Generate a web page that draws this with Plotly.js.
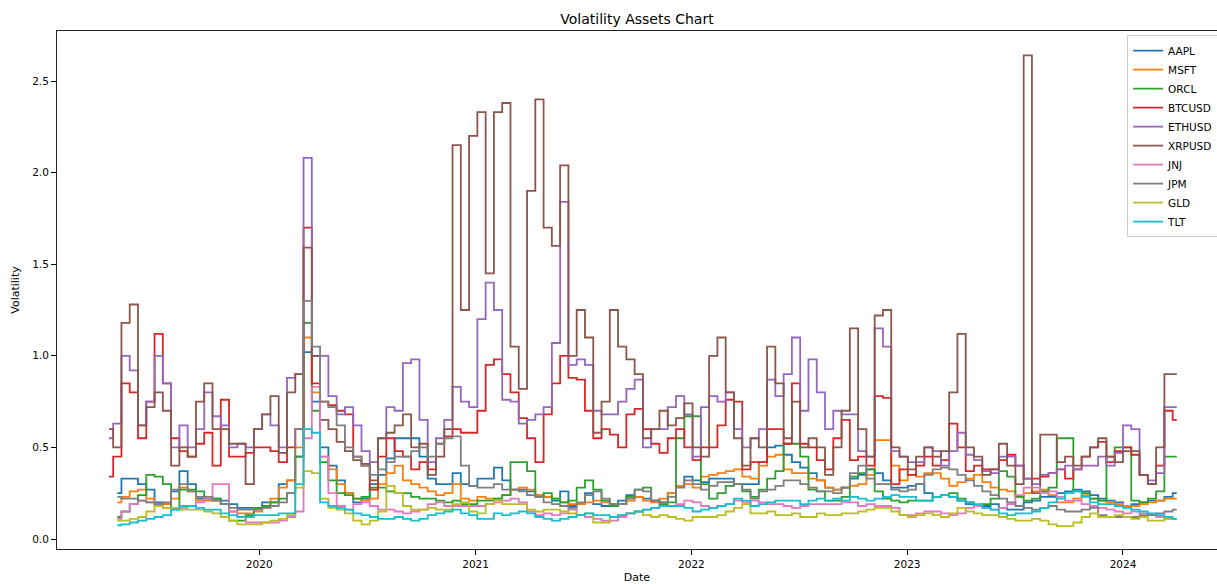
<!DOCTYPE html>
<html>
<head>
<meta charset="utf-8">
<script src="https://cdn.plot.ly/plotly-3.0.1.min.js"></script>
<style>
  html, body { margin: 0; padding: 0; background: #ffffff; }
  #chart { width: 1217px; height: 584px; }
</style>
</head>
<body>
<div id="chart"></div>
<script>
// Sampling: one reading every 14 days starting 2019-04-22 (130 readings)
const startDate = '2019-04-22';
const stepDays = 14;
const nPoints = 130;

const seriesNames = ['AAPL','MSFT','ORCL','BTCUSD','ETHUSD','XRPUSD','JNJ','JPM','GLD','TLT'];
const seriesColors = ['#1f77b4','#ff7f0e','#2ca02c','#d62728','#9467bd','#8c564b','#e377c2','#7f7f7f','#bcbd22','#17becf'];

const yearTicks = ['2020-01-01','2021-01-01','2022-01-01','2023-01-01','2024-01-01'];
const yearLabels = ['2020','2021','2022','2023','2024'];
const yTicks = [0, 0.5, 1.0, 1.5, 2.0, 2.5];

const AAPL = [null,0.25,0.33,0.33,0.3,0.27,0.2,0.19,0.26,0.37,
  0.3,0.22,0.22,0.22,0.21,0.19,0.17,0.17,0.17,0.2,
  0.2,0.3,0.32,0.45,1.02,0.75,0.5,0.4,0.32,0.25,
  0.2,0.22,0.3,0.35,0.44,0.55,0.55,0.55,0.45,0.33,
  0.3,0.3,0.36,0.3,0.29,0.33,0.33,0.39,0.32,0.27,
  0.27,0.26,0.24,0.23,0.21,0.26,0.18,0.19,0.25,0.19,
  0.18,0.19,0.21,0.24,0.23,0.22,0.21,0.2,0.25,0.29,
  0.34,0.32,0.31,0.33,0.33,0.33,0.3,0.3,0.3,0.42,
  0.5,0.51,0.46,0.42,0.39,0.36,0.32,0.28,0.27,0.28,
  0.33,0.35,0.38,0.36,0.32,0.28,0.28,0.29,0.3,0.25,
  0.23,0.24,0.23,0.21,0.19,0.18,0.18,0.19,0.17,0.16,
  0.16,0.2,0.21,0.23,0.23,0.25,0.26,0.27,0.26,0.24,
  0.22,0.21,0.2,0.18,0.19,0.2,0.21,0.21,0.23,0.25];

const MSFT = [null,0.2,0.23,0.26,0.27,0.22,0.19,0.19,0.22,0.28,
  0.26,0.21,0.21,0.21,0.19,0.15,0.14,0.14,0.15,0.17,
  0.22,0.28,0.32,0.5,1.1,0.8,0.45,0.38,0.3,0.25,
  0.22,0.21,0.22,0.3,0.36,0.4,0.32,0.3,0.28,0.26,
  0.24,0.25,0.3,0.22,0.21,0.23,0.22,0.22,0.24,0.27,
  0.28,0.27,0.24,0.23,0.22,0.2,0.19,0.19,0.2,0.21,
  0.2,0.19,0.19,0.21,0.23,0.21,0.2,0.22,0.25,0.29,
  0.3,0.28,0.34,0.35,0.36,0.37,0.38,0.34,0.33,0.4,
  0.45,0.46,0.38,0.36,0.36,0.33,0.32,0.28,0.27,0.28,
  0.29,0.3,0.35,0.54,0.54,0.4,0.32,0.35,0.34,0.36,
  0.36,0.33,0.29,0.31,0.33,0.35,0.31,0.28,0.27,0.26,
  0.23,0.25,0.26,0.27,0.24,0.2,0.2,0.22,0.24,0.22,
  0.21,0.2,0.19,0.18,0.18,0.19,0.2,0.21,0.22,0.22];

const ORCL = [null,0.12,0.15,0.19,0.24,0.35,0.34,0.3,0.17,0.27,
  0.27,0.26,0.22,0.22,0.19,0.1,0.1,0.13,0.17,0.18,
  0.2,0.22,0.25,0.45,1.18,0.7,0.42,0.32,0.25,0.24,
  0.22,0.23,0.28,0.28,0.26,0.25,0.25,0.23,0.22,0.22,
  0.21,0.2,0.21,0.19,0.19,0.21,0.21,0.22,0.24,0.42,
  0.42,0.37,0.23,0.25,0.22,0.2,0.21,0.28,0.32,0.27,
  0.21,0.18,0.19,0.23,0.27,0.28,0.21,0.19,0.2,0.55,
  0.67,0.67,0.3,0.22,0.25,0.29,0.3,0.26,0.23,0.27,
  0.33,0.37,0.52,0.52,0.45,0.27,0.26,0.21,0.21,0.23,
  0.34,0.36,0.38,0.26,0.22,0.21,0.2,0.21,0.21,0.21,
  0.23,0.24,0.25,0.22,0.2,0.18,0.19,0.22,0.37,0.34,
  0.23,0.21,0.22,0.26,0.28,0.55,0.55,0.26,0.25,0.22,
  0.21,0.45,0.5,0.5,0.21,0.2,0.22,0.26,0.45,0.45];

const BTCUSD = [0.34,0.45,0.85,0.8,0.55,0.75,1.12,0.85,0.55,0.48,
  0.45,0.52,0.58,0.4,0.76,0.45,0.45,0.47,0.5,0.5,
  0.48,0.42,0.5,0.6,1.7,0.85,0.75,0.73,0.7,0.68,
  0.45,0.4,0.27,0.45,0.55,0.48,0.45,0.38,0.42,0.38,
  0.52,0.56,0.6,0.58,0.58,0.7,0.95,0.98,0.9,0.8,
  0.66,0.55,0.42,0.68,0.85,1.0,0.88,0.87,0.7,0.55,
  0.6,0.57,0.5,0.68,0.71,0.6,0.52,0.47,0.55,0.6,
  0.5,0.43,0.5,0.5,0.62,0.76,0.75,0.38,0.42,0.42,
  0.6,0.6,0.52,0.85,0.52,0.5,0.43,0.38,0.55,0.65,
  0.43,0.45,0.4,0.78,0.77,0.3,0.38,0.35,0.4,0.45,
  0.4,0.43,0.63,0.5,0.37,0.4,0.38,0.38,0.43,0.46,
  0.4,0.33,0.33,0.34,0.36,0.38,0.33,0.38,0.45,0.5,
  0.53,0.42,0.48,0.5,0.46,0.35,0.3,0.4,0.7,0.65];

const ETHUSD = [0.55,0.63,1.0,0.92,0.62,0.75,1.0,0.85,0.5,0.62,
  0.5,0.6,0.8,0.67,0.62,0.5,0.52,0.5,0.6,0.68,
  0.62,0.5,0.88,0.9,2.08,1.0,1.0,0.78,0.68,0.72,
  0.62,0.48,0.42,0.55,0.72,0.7,0.96,0.98,0.65,0.42,
  0.55,0.65,0.83,0.75,0.72,1.2,1.4,1.25,0.76,0.75,
  0.63,0.65,0.68,0.72,1.07,1.84,0.95,0.98,0.95,0.7,
  0.68,0.68,0.75,0.82,0.87,0.5,0.6,0.6,0.72,0.78,
  0.68,0.45,0.72,0.78,0.75,0.8,0.6,0.5,0.55,0.6,
  0.87,0.78,0.9,1.1,0.7,0.98,0.8,0.6,0.7,0.68,
  0.68,0.48,0.45,1.15,1.05,0.48,0.45,0.42,0.42,0.5,
  0.48,0.4,0.48,0.58,0.46,0.43,0.37,0.36,0.45,0.45,
  0.4,0.33,0.3,0.35,0.36,0.38,0.4,0.38,0.4,0.4,
  0.45,0.4,0.47,0.62,0.6,0.35,0.32,0.36,0.72,0.72];

const XRPUSD = [0.6,0.5,1.18,1.28,0.62,0.72,0.8,0.7,0.4,0.5,
  0.45,0.75,0.85,0.6,0.6,0.52,0.52,0.3,0.6,0.68,
  0.78,0.47,0.8,0.9,1.59,1.0,0.65,0.6,0.53,0.48,
  0.43,0.41,0.32,0.55,0.58,0.62,0.68,0.5,0.52,0.35,
  0.45,0.6,2.15,1.25,2.2,2.33,1.45,2.33,2.38,1.05,
  0.82,1.9,2.4,1.7,1.6,2.04,1.0,1.25,1.1,0.58,
  0.75,1.25,1.05,0.98,0.9,0.55,0.6,0.7,0.62,0.66,
  0.74,0.5,0.45,1.0,1.1,0.8,0.55,0.4,0.55,0.5,
  1.05,0.85,0.55,0.75,0.5,0.55,0.5,0.35,0.5,0.7,
  1.15,0.6,0.45,1.22,1.25,0.5,0.45,0.38,0.45,0.5,
  0.45,0.48,0.8,1.12,0.5,0.45,0.35,0.38,0.52,0.4,
  0.3,2.64,0.25,0.57,0.57,0.42,0.45,0.4,0.45,0.5,
  0.55,0.45,0.42,0.48,0.48,0.35,0.3,0.5,0.9,0.9];

const JNJ = [null,0.11,0.15,0.19,0.21,0.2,0.18,0.17,0.16,0.17,
  0.18,0.2,0.22,0.3,0.3,0.15,0.12,0.09,0.09,0.09,
  0.09,0.1,0.12,0.15,0.55,0.83,0.45,0.25,0.18,0.16,
  0.19,0.2,0.18,0.16,0.16,0.15,0.14,0.15,0.16,0.19,
  0.2,0.18,0.18,0.18,0.18,0.18,0.19,0.2,0.21,0.22,
  0.2,0.15,0.13,0.14,0.13,0.14,0.16,0.13,0.12,0.11,
  0.1,0.1,0.12,0.14,0.15,0.16,0.17,0.18,0.18,0.19,
  0.21,0.2,0.18,0.17,0.18,0.19,0.21,0.2,0.21,0.2,
  0.19,0.19,0.18,0.17,0.18,0.19,0.19,0.19,0.19,0.2,
  0.2,0.18,0.19,0.18,0.18,0.17,0.13,0.13,0.14,0.15,
  0.15,0.14,0.13,0.14,0.17,0.18,0.17,0.16,0.17,0.19,
  0.24,0.28,0.28,0.25,0.26,0.23,0.21,0.21,0.19,0.18,
  0.17,0.16,0.15,0.14,0.15,0.14,0.13,0.12,0.11,0.11];

const JPM = [null,0.23,0.22,0.22,0.21,0.2,0.19,0.2,0.27,0.3,
  0.26,0.23,0.23,0.21,0.19,0.17,0.16,0.16,0.16,0.17,
  0.18,0.2,0.25,0.6,1.3,1.05,0.75,0.72,0.62,0.5,
  0.45,0.4,0.35,0.38,0.42,0.45,0.45,0.48,0.5,0.45,
  0.52,0.55,0.56,0.4,0.29,0.28,0.28,0.3,0.27,0.27,
  0.26,0.24,0.23,0.2,0.19,0.18,0.17,0.2,0.24,0.26,
  0.22,0.19,0.19,0.22,0.27,0.26,0.21,0.2,0.23,0.28,
  0.32,0.3,0.27,0.29,0.31,0.31,0.3,0.27,0.22,0.26,
  0.27,0.29,0.32,0.32,0.3,0.28,0.26,0.26,0.25,0.28,
  0.36,0.4,0.33,0.3,0.3,0.27,0.26,0.27,0.3,0.35,
  0.38,0.39,0.38,0.35,0.32,0.29,0.26,0.24,0.22,0.2,
  0.18,0.17,0.16,0.17,0.18,0.16,0.15,0.15,0.16,0.17,
  0.13,0.12,0.12,0.12,0.12,0.13,0.13,0.14,0.15,0.16];

const GLD = [null,0.1,0.1,0.11,0.12,0.15,0.18,0.17,0.17,0.16,
  0.16,0.16,0.15,0.14,0.12,0.1,0.08,0.08,0.08,0.09,
  0.1,0.11,0.13,0.28,0.37,0.36,0.22,0.17,0.16,0.14,
  0.1,0.08,0.1,0.15,0.29,0.25,0.18,0.16,0.16,0.17,
  0.16,0.16,0.19,0.2,0.15,0.14,0.19,0.21,0.19,0.19,
  0.19,0.16,0.15,0.16,0.16,0.15,0.14,0.13,0.14,0.09,
  0.09,0.12,0.13,0.14,0.15,0.13,0.12,0.13,0.12,0.11,
  0.1,0.12,0.12,0.12,0.13,0.15,0.17,0.19,0.14,0.14,
  0.15,0.13,0.13,0.14,0.12,0.12,0.14,0.13,0.13,0.14,
  0.14,0.15,0.16,0.17,0.17,0.15,0.13,0.12,0.13,0.14,
  0.13,0.12,0.14,0.17,0.15,0.14,0.13,0.13,0.12,0.11,
  0.1,0.1,0.11,0.1,0.08,0.07,0.07,0.09,0.12,0.14,
  0.12,0.12,0.13,0.12,0.11,0.12,0.1,0.1,0.11,0.11];

const TLT = [null,0.075,0.08,0.09,0.1,0.11,0.12,0.13,0.16,0.18,
  0.18,0.17,0.16,0.16,0.14,0.13,0.12,0.12,0.13,0.13,
  0.13,0.14,0.14,0.3,0.6,0.58,0.2,0.18,0.17,0.16,
  0.14,0.13,0.12,0.11,0.11,0.12,0.11,0.1,0.11,0.13,
  0.14,0.15,0.16,0.14,0.13,0.11,0.11,0.14,0.13,0.14,
  0.15,0.14,0.12,0.11,0.1,0.11,0.12,0.13,0.14,0.13,
  0.13,0.12,0.13,0.14,0.15,0.16,0.17,0.18,0.18,0.18,
  0.17,0.15,0.16,0.17,0.18,0.19,0.22,0.21,0.18,0.19,
  0.2,0.21,0.21,0.21,0.19,0.21,0.22,0.21,0.22,0.21,
  0.23,0.22,0.21,0.22,0.23,0.24,0.23,0.23,0.21,0.21,
  0.23,0.24,0.23,0.21,0.2,0.19,0.17,0.16,0.14,0.13,
  0.14,0.14,0.15,0.17,0.2,0.22,0.25,0.26,0.23,0.2,
  0.19,0.19,0.18,0.17,0.16,0.15,0.14,0.13,0.12,0.11];

const seriesValues = [AAPL, MSFT, ORCL, BTCUSD, ETHUSD, XRPUSD, JNJ, JPM, GLD, TLT];

const dates = [];
{
  const d0 = new Date(startDate + 'T00:00:00Z');
  for (let i = 0; i < nPoints; i++) {
    const d = new Date(d0.getTime() + i * stepDays * 86400000);
    dates.push(d.toISOString().slice(0, 10));
  }
}

const font = 'DejaVu Sans, Liberation Sans, sans-serif';

const traces = seriesNames.map((name, k) => ({
  type: 'scatter',
  mode: 'lines',
  name: name,
  x: dates,
  y: seriesValues[k],
  line: { color: seriesColors[k], width: 1.8, shape: 'hvh' },
  connectgaps: false
}));

const layout = {
  width: 1217,
  height: 584,
  margin: { l: 57, r: 0, t: 31, b: 35, autoexpand: false },
  paper_bgcolor: '#ffffff',
  plot_bgcolor: '#ffffff',
  font: { family: font, size: 11, color: '#000000' },
  title: {
    text: 'Volatility Assets Chart',
    font: { family: font, size: 14, color: '#000000' },
    x: 0.5, xanchor: 'center', xref: 'paper',
    y: 1, yref: 'paper', yanchor: 'bottom', pad: { b: 7 }
  },
  showlegend: true,
  legend: {
    x: 0.9225, y: 0.992, xanchor: 'left', yanchor: 'top',
    bgcolor: 'rgba(255,255,255,0.8)',
    bordercolor: '#cccccc', borderwidth: 1,
    font: { family: font, size: 10.5, color: '#000000' },
    tracegroupgap: 0
  },
  xaxis: {
    type: 'date',
    range: ['2019-01-24', '2024-06-08'],
    tickvals: yearTicks,
    ticktext: yearLabels,
    ticks: 'outside', ticklen: 5, tickwidth: 1, tickcolor: '#000000',
    showgrid: false, zeroline: false,
    showline: true, linecolor: '#222222', linewidth: 1, mirror: true,
    tickfont: { family: font, size: 10.5, color: '#000000' },
    title: { text: 'Date', font: { family: font, size: 11, color: '#000000' }, standoff: 6 }
  },
  yaxis: {
    range: [-0.0546, 2.773],
    tickvals: yTicks,
    tickformat: '.1f',
    ticks: 'outside', ticklen: 5, tickwidth: 1, tickcolor: '#000000',
    showgrid: false, zeroline: false,
    showline: true, linecolor: '#222222', linewidth: 1,
    tickfont: { family: font, size: 10.5, color: '#000000' },
    title: { text: 'Volatility', font: { family: font, size: 11, color: '#000000' }, standoff: 10 }
  }
};

Plotly.newPlot('chart', traces, layout, { displayModeBar: false, staticPlot: true });
</script>
</body>
</html>
